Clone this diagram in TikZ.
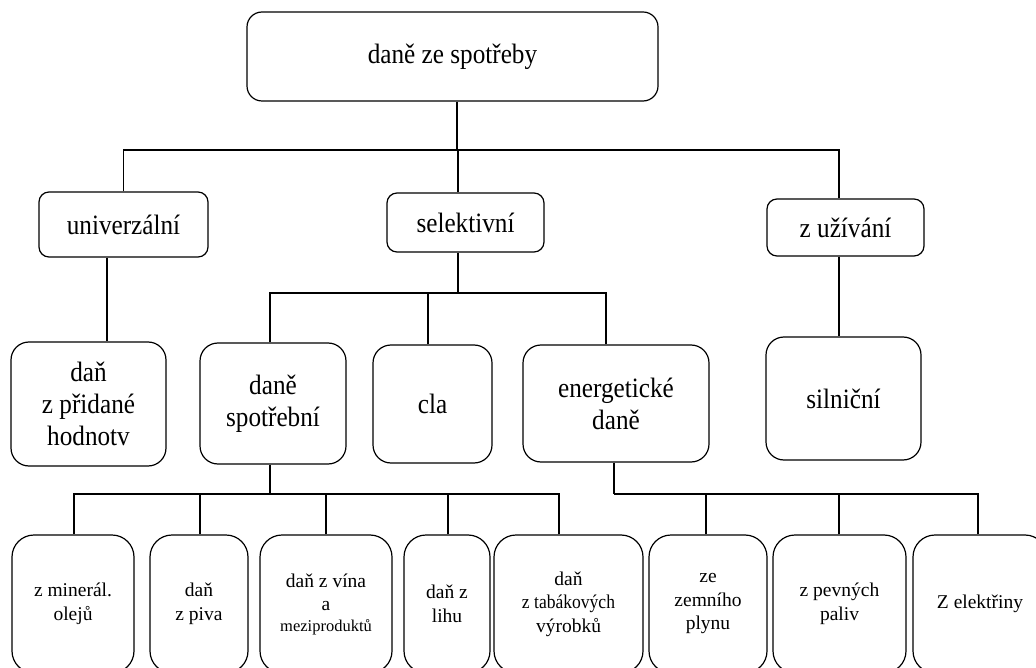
\documentclass[tikz,border=0pt]{standalone}
\usepackage{fontspec}
\setmainfont{Liberation Serif}
\newfontfamily\narrowserif[FakeStretch=0.9]{Liberation Serif}
\usetikzlibrary{positioning,calc}

\begin{document}
\begin{tikzpicture}[x=1pt,y=-1pt,
		box/.style={rectangle, draw=black, line width=1.2pt, align=center, inner sep=0pt, font=\narrowserif\fontsize{28}{32}\selectfont},
		mid/.style={box, rounded corners=18pt},
		leaf/.style={box, rounded corners=22pt, minimum height=138pt, font=\fontsize{19.5}{23.5}\selectfont},
		link/.style={line width=1.2pt}]
		\useasboundingbox (0,0) rectangle (1036,668);
		\clip (0,0) rectangle (1036,668);
		
		\node[box, rounded corners=15pt, minimum width=411pt, minimum height=89pt] (root) at (452.5,56.5) {daně ze spotřeby};
		
		\node[box, rounded corners=10pt, minimum width=169pt, minimum height=65pt] (univ) at (123.5,224.5) {univerzální};
		\node[box, rounded corners=10pt, minimum width=157pt, minimum height=59pt] (sel) at (465.5,222.5) {selektivní};
		\node[box, rounded corners=10pt, minimum width=157pt, minimum height=57pt] (uziv) at (845.5,227.5) {z užívání};
		
		\node[mid, minimum width=155pt, minimum height=124pt] (dph) at (88.5,404) {daň\\ z přidané\\ hodnotv};
		\node[mid, minimum width=146pt, minimum height=121pt] (spotr) at (273,403.5) {daně\\ spotřební};
		\node[mid, minimum width=119pt, minimum height=118pt] (cla) at (432.5,404) {cla};
		\node[mid, minimum width=186pt, minimum height=117pt] (energ) at (616,403.5) {energetické\\ daně};
		\node[mid, minimum width=155pt, minimum height=123pt] (siln) at (843.5,398.5) {silniční};
		
		\node[leaf, minimum width=122pt] (oleje) at (73,604) {z minerál.\\ olejů};
		\node[leaf, minimum width=98pt] (pivo) at (199,604) {daň\\ z piva};
		\node[leaf, minimum width=132pt] (vino) at (326,604) {daň z vína\\ a\\[-3pt] {\fontsize{16.5}{20}\selectfont meziproduktů}};
		\node[leaf, minimum width=86pt] (lih) at (447,604) {daň z\\ lihu};
		\node[leaf, minimum width=149pt] (tabak) at (568.5,604) {daň\\ {\narrowserif z tabákových}\\ výrobků};
		\node[leaf, minimum width=118pt] (plyn) at (708,604) {ze\\ zemního\\ plynu};
		\node[leaf, minimum width=133pt] (paliva) at (839.5,604) {z pevných\\ paliv};
		\node[leaf, minimum width=134pt] (elektr) at (980,604) {Z elektřiny};
		
		% upper tree
		\coordinate (bus1) at (457,150);
		\draw[link] ([xshift=4.5pt]root.south) -- (bus1);
		\draw[link] (univ.north) |- (bus1);
		\draw[link] ([xshift=-7.5pt]sel.north) |- (bus1);
		\draw[link] ([xshift=-6.5pt]uziv.north) |- (bus1);
		
		\draw[link] ([xshift=-16.5pt]univ.south) -- ([xshift=18.5pt]dph.north);
		\draw[link] ([xshift=-6.5pt]uziv.south) -- ([xshift=-4.5pt]siln.north);
		
		\coordinate (bus2) at (458,293);
		\draw[link] ([xshift=-7.5pt]sel.south) -- (bus2);
		\draw[link] ([xshift=-3pt]spotr.north) |- (bus2);
		\draw[link] ([xshift=-4.5pt]cla.north) |- (bus2);
		\draw[link] ([xshift=-10pt]energ.north) |- (bus2);
		
		% lower tree
		\coordinate (bus3) at (270,494);
		\draw[link] ([xshift=-3pt]spotr.south) -- (bus3);
		\draw[link] ([xshift=1pt]oleje.north) |- (bus3);
		\draw[link] ([xshift=1pt]pivo.north) |- (bus3);
		\draw[link] (vino.north) |- (bus3);
		\draw[link] ([xshift=1pt]lih.north) |- (bus3);
		\draw[link] ([xshift=-9.5pt]tabak.north) |- (bus3);
		
		\coordinate (bus4) at (614,494);
		\draw[link] ([xshift=-2pt]energ.south) -- (bus4);
		\draw[link] ([xshift=-2pt]plyn.north) |- (bus4);
		\draw[link] ([xshift=-0.5pt]paliva.north) |- (bus4);
		\draw[link] ([xshift=-2pt]elektr.north) |- (bus4);
	\end{tikzpicture}
\end{document}
